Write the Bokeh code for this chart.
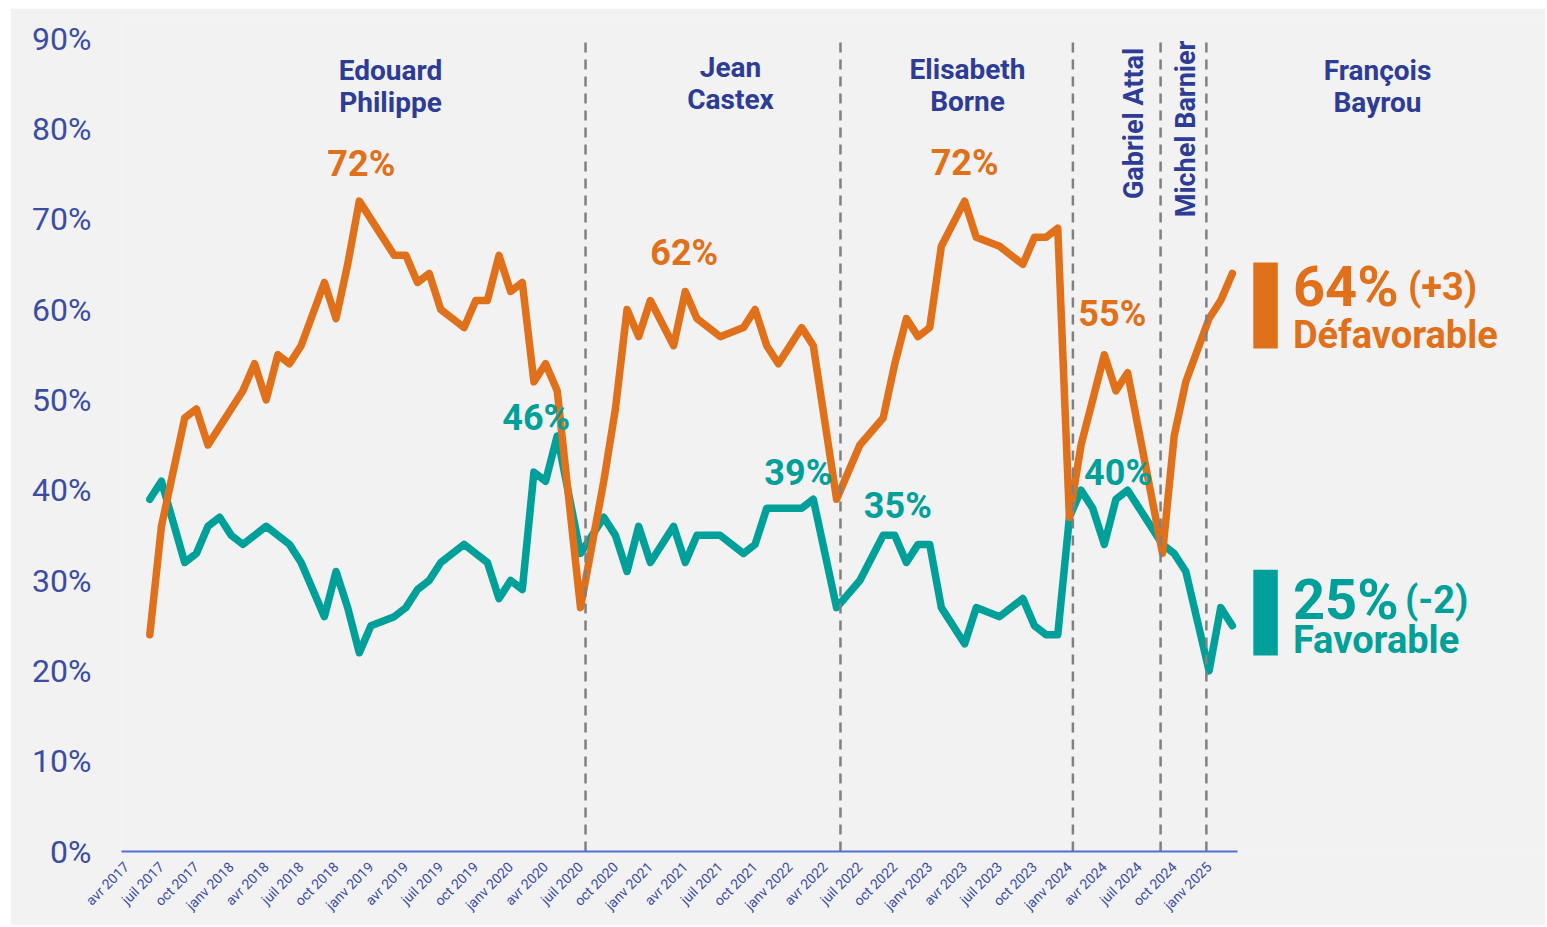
import math
from bokeh.plotting import figure
from bokeh.models import FixedTicker, Range1d
from bokeh.core.properties import value
from bokeh.embed import file_html
from bokeh.resources import INLINE

# ---------------- data ----------------
def_months = ["2017-06", "2017-07", "2017-09", "2017-10", "2017-11", "2018-02", "2018-03",
              "2018-04", "2018-05", "2018-06", "2018-07", "2018-09", "2018-10", "2018-11",
              "2018-12", "2019-03", "2019-04", "2019-05", "2019-06", "2019-07", "2019-09",
              "2019-10", "2019-11", "2019-12", "2020-01", "2020-02", "2020-03", "2020-04",
              "2020-05", "2020-07", "2020-09", "2020-10", "2020-11", "2020-12", "2021-01",
              "2021-03", "2021-04", "2021-05", "2021-07", "2021-09", "2021-10", "2021-11",
              "2021-12", "2022-02", "2022-03", "2022-05", "2022-07", "2022-09", "2022-10",
              "2022-11", "2022-12", "2023-01", "2023-02", "2023-04", "2023-05", "2023-07",
              "2023-09", "2023-10", "2023-11", "2023-12", "2024-01", "2024-02", "2024-04",
              "2024-05", "2024-06", "2024-09", "2024-10", "2024-11", "2025-01", "2025-02",
              "2025-03"]
def_values = [24, 36, 48, 49, 45, 51, 54,
              50, 55, 54, 56, 63, 59, 65,
              72, 66, 66, 63, 64, 60, 58,
              61, 61, 66, 62, 63, 52, 54,
              51, 27, 41, 49, 60, 57, 61,
              56, 62, 59, 57, 58, 60, 56,
              54, 58, 56, 39, 45, 48, 54,
              59, 57, 58, 67, 72, 68, 67,
              65, 68, 68, 69, 37, 45, 55,
              51, 53, 33, 46, 52, 59, 61,
              64]

fav_months = ["2017-06", "2017-07", "2017-09", "2017-10", "2017-11", "2017-12", "2018-01",
              "2018-02", "2018-04", "2018-06", "2018-07", "2018-09", "2018-10", "2018-11",
              "2018-12", "2019-01", "2019-03", "2019-04", "2019-05", "2019-06", "2019-07",
              "2019-09", "2019-11", "2019-12", "2020-01", "2020-02", "2020-03", "2020-04",
              "2020-05", "2020-07", "2020-09", "2020-10", "2020-11", "2020-12", "2021-01",
              "2021-03", "2021-04", "2021-05", "2021-07", "2021-09", "2021-10", "2021-11",
              "2022-02", "2022-03", "2022-05", "2022-07", "2022-09", "2022-10", "2022-11",
              "2022-12", "2023-01", "2023-02", "2023-04", "2023-05", "2023-07", "2023-09",
              "2023-10", "2023-11", "2023-12", "2024-01", "2024-02", "2024-03", "2024-04",
              "2024-05", "2024-06", "2024-09", "2024-10", "2024-11", "2025-01", "2025-02",
              "2025-03"]
fav_values = [39, 41, 32, 33, 36, 37, 35,
              34, 36, 34, 32, 26, 31, 27,
              22, 25, 26, 27, 29, 30, 32,
              34, 32, 28, 30, 29, 42, 41,
              46, 33, 37, 35, 31, 36, 32,
              36, 32, 35, 35, 33, 34, 38,
              38, 39, 27, 30, 35, 35, 32,
              34, 34, 27, 23, 27, 26, 28,
              25, 24, 24, 37, 40, 38, 34,
              39, 40, 34, 33, 31, 20, 27,
              25]

pm_change_dates = ["2020-07-14", "2022-05-11", "2024-01-10", "2024-08-26", "2024-12-24"]

pm_names_flat = ["Edouard\nPhilippe", "Jean\nCastex", "Elisabeth\nBorne", "François\nBayrou"]
pm_names_vertical = ["Gabriel Attal", "Michel Barnier"]

peak_labels_def = ["2018-12", "2021-04", "2023-04", "2024-04"]
peak_labels_fav = ["2020-05", "2022-03", "2022-10", "2024-02"]

tick_months = ["2017-04", "2017-07", "2017-10", "2018-01", "2018-04", "2018-07", "2018-10",
               "2019-01", "2019-04", "2019-07", "2019-10", "2020-01", "2020-04", "2020-07",
               "2020-10", "2021-01", "2021-04", "2021-07", "2021-10", "2022-01", "2022-04",
               "2022-07", "2022-10", "2023-01", "2023-04", "2023-07", "2023-10", "2024-01",
               "2024-04", "2024-07", "2024-10", "2025-01"]
month_abbr = {1: "janv", 4: "avr", 7: "juil", 10: "oct"}
y_ticks = [0, 10, 20, 30, 40, 50, 60, 70, 80, 90]

series_labels = ["Défavorable", "Favorable"]

# ---------------- helpers ----------------
def midx(s):
    parts = s.split("-")
    y, mo = int(parts[0]), int(parts[1])
    d = int(parts[2]) if len(parts) > 2 else 1
    return (y - 2017) * 12 + (mo - 4) + (d - 1) / 30.0

ORANGE = "#E0701A"
TEAL = "#00A09A"
NAVY = "#2D3C94"
AXISBLUE = "#4F72CF"
TICKBLUE = "#3A4DA3"
GRAY = "#808080"
BG = "#F2F2F2"
FONT = value("Roboto")

def_x = [midx(m) for m in def_months]
fav_x = [midx(m) for m in fav_months]

p = figure(width=1535, height=917, margin=(8, 0, 0, 10),
           output_backend="svg", toolbar_location=None,
           x_range=Range1d(-0.43, 121.9), y_range=Range1d(0, 92),
           min_border_left=111, min_border_right=0, min_border_top=12, min_border_bottom=74,
           background_fill_color=BG, border_fill_color=BG, outline_line_color=None)
p.xgrid.visible = False
p.ygrid.visible = False

xa = p.xaxis[0]
tick_pos = [int(round(midx(m))) for m in tick_months]
xa.ticker = FixedTicker(ticks=tick_pos)
xa.major_label_overrides = {t: f"{month_abbr[int(m[5:7])]} {m[:4]}" for t, m in zip(tick_pos, tick_months)}
xa.bounds = (-0.43, 95.45)
xa.major_label_orientation = math.pi / 4
xa.major_tick_line_color = None
xa.minor_tick_line_color = None
xa.axis_line_color = AXISBLUE
xa.axis_line_width = 2
xa.major_label_text_font = "Roboto"
xa.major_label_text_font_size = "14px"
xa.major_label_text_color = TICKBLUE
xa.major_label_standoff = 7

ya = p.yaxis[0]
ya.ticker = FixedTicker(ticks=y_ticks)
ya.major_label_overrides = {v: f"{v}%" for v in y_ticks}
ya.axis_line_color = None
ya.major_tick_line_color = None
ya.minor_tick_line_color = None
ya.major_label_text_font = "Roboto"
ya.major_label_text_font_size = "32px"
ya.major_label_text_color = TICKBLUE
ya.major_label_standoff = 24

# series
p.line(fav_x, fav_values, line_color=TEAL, line_width=7.5, line_join="round", line_cap="round")
p.line(def_x, def_values, line_color=ORANGE, line_width=7.5, line_join="round", line_cap="round")

# PM change lines
chg = [midx(d) for d in pm_change_dates]
p.segment(x0=chg, y0=[0] * len(chg), x1=chg, y1=[90] * len(chg),
          line_color=GRAY, line_width=2.5, line_dash="10 7")

# peak labels
lx, ly, lt, lc, ldx, ldy = [], [], [], [], [], []
def_offsets = [(2, -37), (-1, -38), (0, -38), (8, -41)]
fav_offsets = [(-21, -18), (-15, -26), (3, -29), (37, -17)]
for m, (dx, dy) in zip(peak_labels_def, def_offsets):
    v = def_values[def_months.index(m)]
    lx.append(midx(m)); ly.append(v); lt.append(f"{v}%"); lc.append(ORANGE); ldx.append(dx); ldy.append(dy)
for m, (dx, dy) in zip(peak_labels_fav, fav_offsets):
    v = fav_values[fav_months.index(m)]
    lx.append(midx(m)); ly.append(v); lt.append(f"{v}%"); lc.append(TEAL); ldx.append(dx); ldy.append(dy)
p.text(x=lx, y=ly, text=lt, text_color=lc, x_offset=ldx, y_offset=ldy,
       text_font=FONT, text_font_style="bold", text_font_size="36px",
       text_align="center", text_baseline="middle")

# PM names
p.text(x=[22.68, 51.89, 72.25, 107.47], y=[84.7, 85.0, 84.85, 84.7], text=pm_names_flat,
       text_color=NAVY, text_font=FONT, text_font_style="bold", text_font_size="28px",
       text_align="center", text_baseline="middle", text_line_height=0.97)
p.text(x=[86.51, 90.98], y=[80.6, 80.0], text=pm_names_vertical, angle=math.pi / 2,
       text_color=NAVY, text_font=FONT, text_font_style="bold", text_font_size="27px",
       text_align="center", text_baseline="middle")

# right-hand summary
p.quad(left=[96.8, 96.8], right=[98.9, 98.9], top=[65.2, 31.2], bottom=[55.7, 21.7],
       fill_color=[ORANGE, TEAL], line_color=None)
last_def, last_fav = def_values[-1], fav_values[-1]
d_def, d_fav = def_values[-1] - def_values[-2], fav_values[-1] - fav_values[-2]
p.text(x=[100.2, 100.2], y=[62.45, 27.8], text=[f"{last_def}%", f"{last_fav}%"],
       text_color=[ORANGE, TEAL], text_font=FONT, text_font_style="bold", text_font_size="56px",
       text_align="left", text_baseline="alphabetic")
p.text(x=[100.2, 100.2], y=[62.45, 27.8], text=[f"({d_def:+d})", f"({d_fav:+d})"],
       x_offset=[115, 112],
       text_color=[ORANGE, TEAL], text_font=FONT, text_font_style="bold", text_font_size="38px",
       text_align="left", text_baseline="alphabetic")
p.text(x=[100.2, 100.2], y=[57.15, 23.45], text=series_labels,
       text_color=[ORANGE, TEAL], text_font=FONT, text_font_style="bold", text_font_size="38px",
       text_align="left", text_baseline="alphabetic")

open("out.html", "w").write(file_html(p, INLINE))
